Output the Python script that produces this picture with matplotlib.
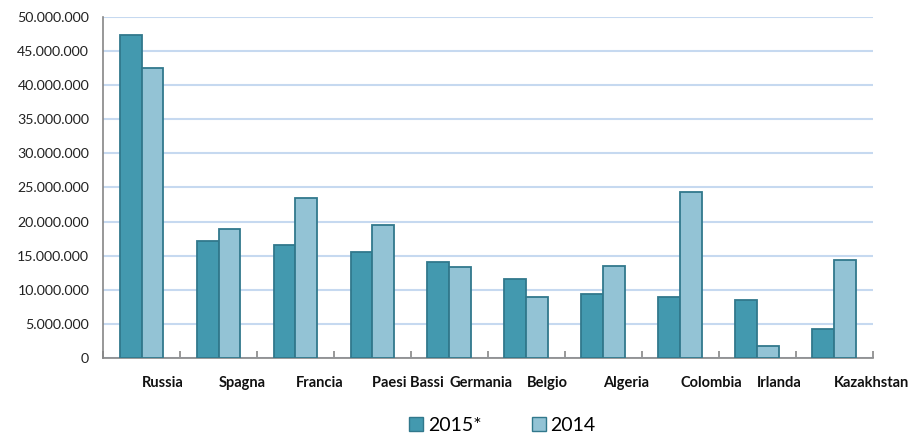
import matplotlib
matplotlib.use("Agg")
import matplotlib.pyplot as plt
from matplotlib.patches import Patch
import numpy as np

# data
paesi = ["Russia", "Spagna", "Francia", "Paesi Bassi", "Germania",
         "Belgio", "Algeria", "Colombia", "Irlanda", "Kazakhstan"]
val_2015 = [47.4, 17.2, 16.6, 15.5, 14.1, 11.6, 9.4, 9.0, 8.5, 4.3]  # milioni
val_2014 = [42.5, 18.9, 23.5, 19.5, 13.4, 9.0, 13.5, 24.4, 1.7, 14.4]
y_ticks = [0, 5, 10, 15, 20, 25, 30, 35, 40, 45, 50]
y_labels = ["0", "5.000.000", "10.000.000", "15.000.000", "20.000.000", "25.000.000",
            "30.000.000", "35.000.000", "40.000.000", "45.000.000", "50.000.000"]

plt.rcParams['font.family'] = ['Lato', 'DejaVu Sans']

c_dark = "#4399AF"
c_light = "#93C3D5"
c_edge = "#31788C"

fig = plt.figure(figsize=(9.12, 4.34), dpi=100)
ax = fig.add_axes([0.113, 0.175, 0.844, 0.786])

x = np.arange(len(paesi))
w = 0.285
ax.bar(x - w / 2, [v * 1e6 for v in val_2015], w, color=c_dark, edgecolor=c_edge, linewidth=1.3, zorder=3)
ax.bar(x + w / 2, [v * 1e6 for v in val_2014], w, color=c_light, edgecolor=c_edge, linewidth=1.3, zorder=3)

ax.set_xlim(-0.5, len(paesi) - 0.5)
ax.set_ylim(0, 50e6)
ax.set_yticks([t * 1e6 for t in y_ticks])
ax.set_yticklabels(y_labels, fontsize=10.2, color="#222222")
ax.tick_params(axis="y", length=0, pad=10)
ax.yaxis.grid(True, color="#C6D9F0", linewidth=1.5, zorder=0)

# category labels start at the group centre, tick marks at group boundaries
ax.set_xticks(x)
ax.set_xticklabels(paesi, fontsize=10.5, fontweight="bold", ha="left", color="#111111")
ax.tick_params(axis="x", which="major", length=0, pad=13)
ax.set_xticks(np.arange(len(paesi) + 1) - 0.5, minor=True)
ax.tick_params(axis="x", which="minor", length=5, direction="in", color="#868686", width=1.2)

for s in ["top", "right"]:
    ax.spines[s].set_visible(False)
ax.spines["left"].set_color("#868686")
ax.spines["bottom"].set_color("#868686")
ax.spines["left"].set_linewidth(1.2)
ax.spines["bottom"].set_linewidth(1.2)

handles = [Patch(facecolor=c_dark, edgecolor=c_edge), Patch(facecolor=c_light, edgecolor=c_edge)]
fig.legend(handles, ["2015*", "2014"], loc="lower center", bbox_to_anchor=(0.551, -0.04), ncol=2,
           frameon=False, fontsize=14, handlelength=0.7, handleheight=0.7, handletextpad=0.25,
           columnspacing=2.6)

fig.savefig("out.png", dpi=100)
